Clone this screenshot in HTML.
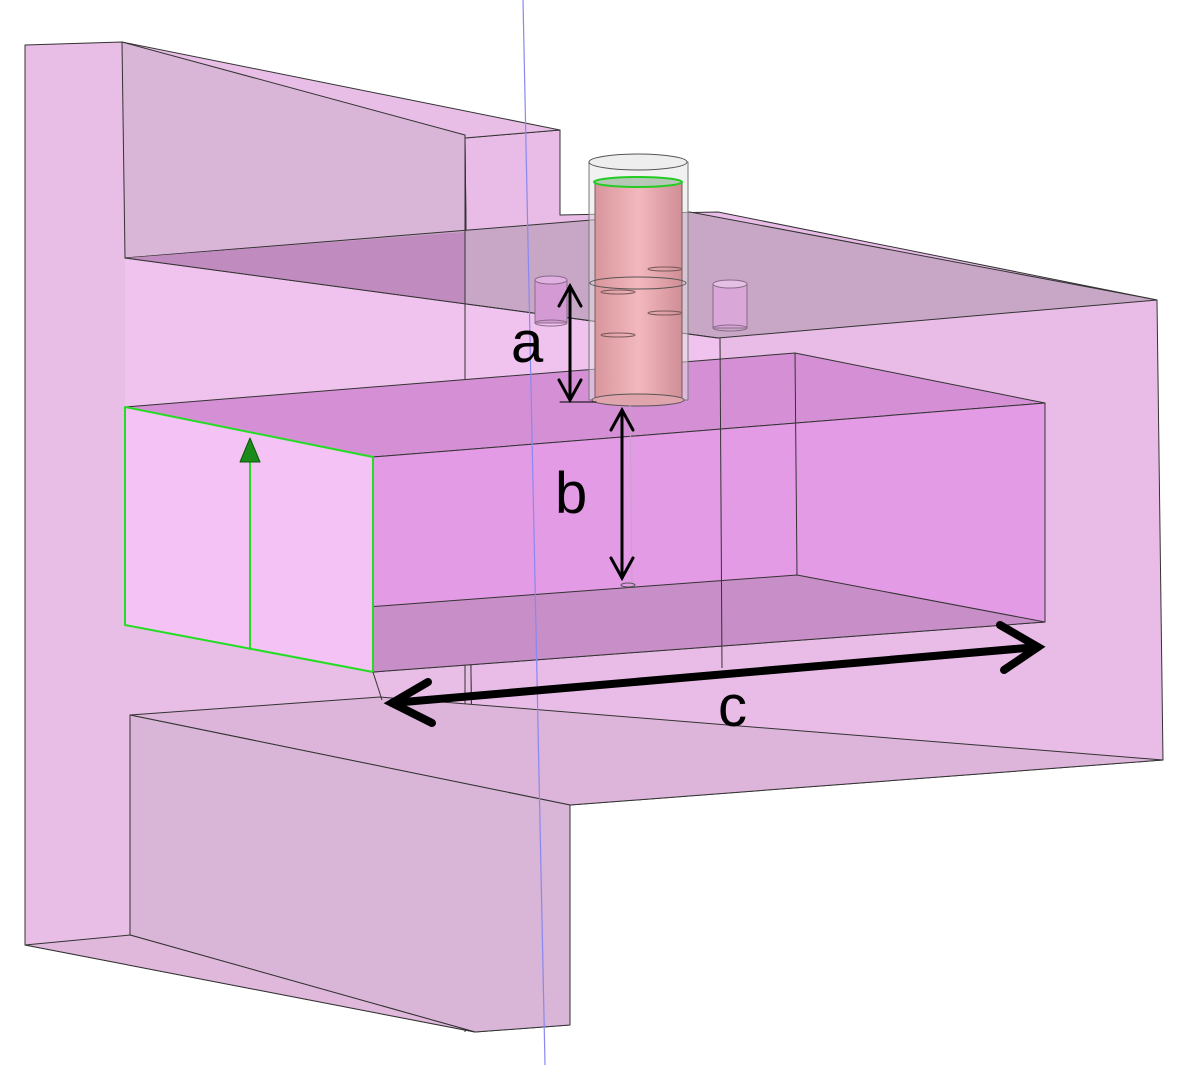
<!DOCTYPE html>
<html><head><style>html,body{margin:0;padding:0;background:#fff;width:1195px;height:1081px;overflow:hidden}</style></head>
<body>
<svg width="1195" height="1081" viewBox="0 0 1195 1081" xmlns="http://www.w3.org/2000/svg">
<defs>
<linearGradient id="cyl" x1="0" x2="1" y1="0" y2="0">
<stop offset="0" stop-color="#d8959c"/><stop offset="0.5" stop-color="#f2b8bd"/><stop offset="1" stop-color="#d08e96"/>
</linearGradient>
</defs>
<g stroke="#333" stroke-width="1" stroke-linejoin="round">
<!-- right slab side -->
<polygon points="465,138 560,130 560,215 718,212 1157,300 1163,760 570,805 570,1025 475,1032" fill="#e8bce6"/>
<!-- left front face -->
<polygon points="25,45 122,42 560,130 465,138 475,1032 25,945" fill="#e8bde6"/>
<!-- light area under plate -->
<polygon points="125,258 718,338 720,360 125,407" fill="#f0c3ef" stroke="none"/>
<!-- upper recess -->
<polygon points="122,42 465,135 465,232 125,258" fill="#d9b5d8"/>
<!-- top plate -->
<polygon points="125,258 690,212 1157,300 718,338" fill="#c8a7c6"/>
<polygon points="125,258 465,232 465,304" fill="#c08bbf" stroke="none"/>
<line x1="125" y1="258" x2="718" y2="338"/>
<line x1="465" y1="135" x2="465" y2="1032"/>
<!-- lower arm -->
<polygon points="130,715 380,697 1163,760 570,805" fill="#ddb5da"/>
<polygon points="130,715 570,805 570,1025 475,1032 130,935" fill="#d9b5d7"/>
<polygon points="25,945 130,935 475,1032" fill="#e0b8dc"/>
<!-- waveguide box -->
<polygon points="125,407 795,353 1045,403 373,457" fill="#d590d5"/>
<polygon points="373,457 1045,403 1045,622 373,672" fill="#e49be6"/>
<polygon points="125,625 373,672 1045,622 797,575" fill="#c78ec8"/>
<line x1="795" y1="353" x2="797" y2="575"/>
<line x1="720" y1="338" x2="722" y2="668"/>
<polygon points="125,407 373,457 373,672 125,625" fill="#f4c2f4" stroke="#22dd22" stroke-width="2"/>
<line x1="250" y1="440" x2="250" y2="650" stroke="#22dd22" stroke-width="2"/>
<polygon points="250,438 240,462 260,462" fill="#1a8a1a" stroke="#0a5a0a"/>
<line x1="373" y1="672" x2="382" y2="700"/>
<!-- small posts -->
<rect x="535" y="280" width="32" height="43" fill="#d49ad4" stroke="#8a6a8a"/>
<ellipse cx="551" cy="280" rx="16" ry="4" fill="#e0b0e0" stroke="#8a6a8a"/>
<ellipse cx="551" cy="323" rx="16" ry="3" fill="none" stroke="#8a6a8a"/>
<rect x="713" y="284" width="34" height="44" fill="#d9a8d8" stroke="#8a6a8a"/>
<ellipse cx="730" cy="284" rx="17" ry="4" fill="#e5c0e5" stroke="#8a6a8a"/>
<ellipse cx="730" cy="328" rx="17" ry="3" fill="none" stroke="#8a6a8a"/>
<!-- cylinder -->
<rect x="589" y="162" width="99" height="238" fill="#e4e4e4" fill-opacity="0.5" stroke="#777"/>
<ellipse cx="638" cy="162" rx="49" ry="8" fill="#eeeeee" stroke="#555"/>
<rect x="595" y="182" width="87" height="218" fill="url(#cyl)" stroke="#7a5a5a"/>
<ellipse cx="638" cy="182" rx="44" ry="5" fill="#b8c8b8" stroke="#22cc22" stroke-width="2"/>
<ellipse cx="638" cy="283" rx="48" ry="6" fill="none" stroke="#555"/>
<ellipse cx="638" cy="400" rx="46" ry="6" fill="#e0a5ac" stroke="#555"/>
<ellipse cx="618" cy="292" rx="17" ry="2" fill="none" stroke="#7a5a5a"/>
<ellipse cx="665" cy="269" rx="17" ry="2" fill="none" stroke="#7a5a5a"/>
<ellipse cx="665" cy="313" rx="17" ry="2" fill="none" stroke="#7a5a5a"/>
<ellipse cx="618" cy="335" rx="17" ry="2" fill="none" stroke="#7a5a5a"/>
<line x1="630" y1="405" x2="632" y2="585" stroke="#c8a0c8"/>
<ellipse cx="628" cy="585" rx="7" ry="2" fill="none" stroke="#555"/>
</g>
<!-- blue axis -->
<line x1="523" y1="0" x2="545" y2="1065" stroke="#8888ee" stroke-width="1.2"/>
<!-- dimension arrows -->
<g stroke="#000" stroke-width="3" fill="none" stroke-linecap="round">
<line x1="570" y1="286" x2="570" y2="400"/>
<polyline points="559,306 570,286 581,306"/>
<polyline points="559,380 570,400 581,380"/>
<line x1="560" y1="402" x2="596" y2="402" stroke-width="1"/>
<line x1="622" y1="410" x2="622" y2="578"/>
<polyline points="611,430 622,410 633,430"/>
<polyline points="611,558 622,578 633,558"/>
</g>
<g stroke="#000" stroke-width="8" stroke-linecap="round" fill="none">
<line x1="392" y1="703" x2="1038" y2="647"/>
<polyline points="432,723 392,703 428,682"/>
<polyline points="1000,625 1038,647 1004,670"/>
</g>
<g font-family="Liberation Sans, sans-serif" font-size="58" fill="#000">
<text x="511" y="362">a</text>
<text x="555" y="513">b</text>
<text x="718" y="726">c</text>
</g>
</svg>
</body></html>
